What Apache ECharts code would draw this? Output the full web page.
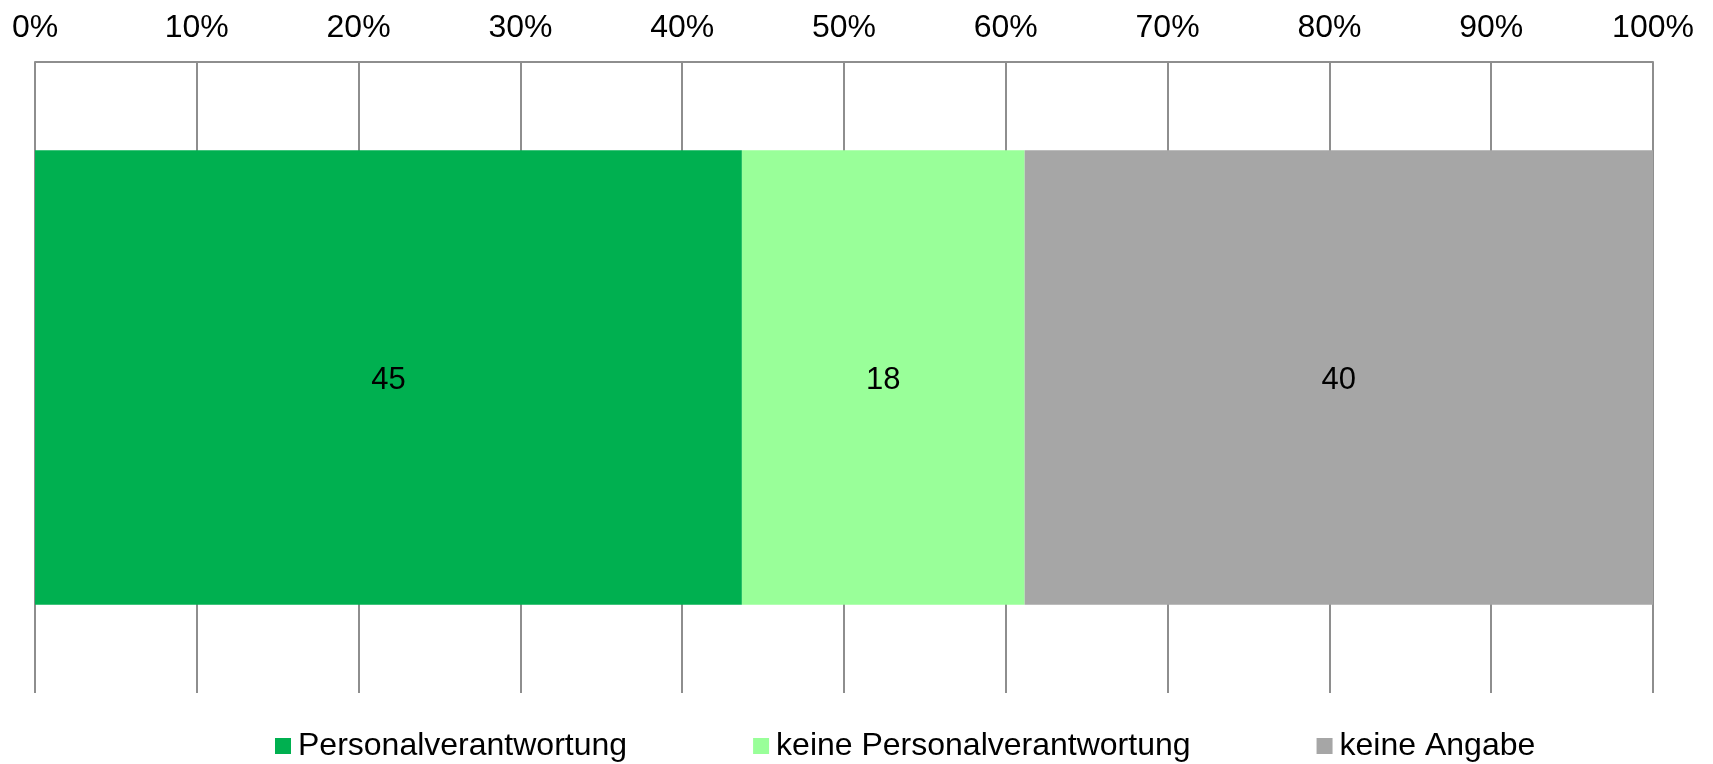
<!DOCTYPE html>
<html>
<head>
<meta charset="utf-8">
<script src="https://cdn.jsdelivr.net/npm/echarts@6/dist/echarts.min.js"></script>
<style>
html,body{margin:0;padding:0;background:#fff;}
#chart{width:1713px;height:764px;}
</style>
</head>
<body>
<div id="chart"></div>
<script>
var categories = ['Gesamt'];
var seriesNames = ['Personalverantwortung', 'keine Personalverantwortung', 'keine Angabe'];
var valPersonal = [45];
var valKeinePersonal = [18];
var valKeineAngabe = [40];
var tickLabels = ['0%','10%','20%','30%','40%','50%','60%','70%','80%','90%','100%'];
var colors = ['#00B050', '#99FF99', '#A6A6A6'];

var raw = [valPersonal, valKeinePersonal, valKeineAngabe];
var totals = categories.map(function (c, i) {
  return raw.reduce(function (s, arr) { return s + arr[i]; }, 0);
});

var series = raw.map(function (arr, k) {
  return {
    name: seriesNames[k],
    type: 'bar',
    stack: 'total',
    barCategoryGap: '28%',
    itemStyle: { color: colors[k] },
    label: {
      show: true,
      position: 'inside',
      offset: [0, 3],
      color: '#000',
      fontFamily: '"Liberation Sans Narrow", "Liberation Sans", Arial, sans-serif',
      fontSize: 31,
      formatter: function (p) { return arr[p.dataIndex]; }
    },
    data: arr.map(function (v, i) { return v / totals[i] * 100; })
  };
});

var chart = echarts.init(document.getElementById('chart'));
chart.setOption({
  animation: false,
  backgroundColor: '#fff',
  grid: { left: 35, right: 60, top: 62, bottom: 71, containLabel: false },
  xAxis: {
    type: 'value',
    position: 'top',
    min: 0,
    max: 100,
    interval: 10,
    axisLine: { show: true, lineStyle: { color: '#8E8E8E', width: 2 } },
    axisTick: { show: false },
    splitLine: { show: true, lineStyle: { color: '#8E8E8E', width: 2 } },
    axisLabel: {
      margin: 18,
      color: '#000',
      fontFamily: '"Liberation Sans", Arial, sans-serif',
      fontSize: 32,
      formatter: function (v) { return tickLabels[Math.round(v / 10)]; }
    }
  },
  yAxis: {
    type: 'category',
    data: categories,
    inverse: true,
    show: false
  },
  legend: {
    left: 275,
    top: 730,
    padding: 0,
    itemWidth: 16,
    itemHeight: 16,
    itemGap: 126,
    icon: 'rect',
    data: seriesNames,
    textStyle: {
      color: '#000',
      fontFamily: '"Liberation Sans", Arial, sans-serif',
      fontSize: 32,
      padding: [0, 0, 0, 2]
    }
  },
  series: series
});
</script>
</body>
</html>
